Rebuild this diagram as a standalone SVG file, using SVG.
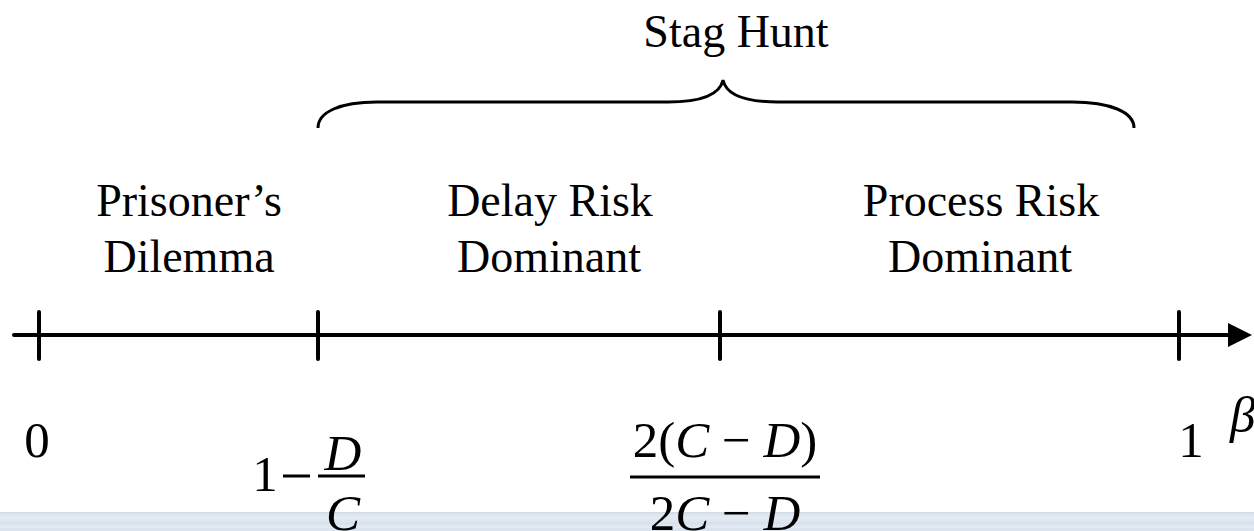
<svg xmlns="http://www.w3.org/2000/svg" width="1254" height="531" viewBox="0 0 1254 531">
<style>
.t{font-family:"Liberation Serif","Times New Roman",serif;font-size:46px;fill:#000;text-anchor:middle}
.m{font-family:"Liberation Serif","Times New Roman",serif;font-size:51px;fill:#000}
.i{font-style:italic}
.ln{stroke:#000;stroke-width:4;fill:none;stroke-linecap:round}
.br{stroke:#000;stroke-width:3;fill:none}
.bar{stroke:#000;stroke-width:3}
</style>
<defs>
<marker id="arr" markerWidth="8" markerHeight="8" refX="0" refY="4" orient="auto" markerUnits="userSpaceOnUse" viewBox="0 0 8 8" overflow="visible">
<polygon points="0,-8 24,4 0,16" fill="#000"/>
</marker>
<linearGradient id="band" x1="0" y1="0" x2="0" y2="1">
<stop offset="0" stop-color="#cfdae6"/>
<stop offset="0.15" stop-color="#dfe7f0"/>
<stop offset="1" stop-color="#dbe4ee"/>
</linearGradient>
</defs>
<rect width="1254" height="531" fill="#fff"/>
<g id="band-bg">
<rect x="0" y="512" width="1254" height="19" fill="url(#band)"/>
<line x1="0" y1="518" x2="1254" y2="518" stroke="#e8eef5" stroke-width="1"/>
<line x1="0" y1="523" x2="1254" y2="523" stroke="#d3dde8" stroke-width="1"/>
<line x1="0" y1="527" x2="1254" y2="527" stroke="#e6edf4" stroke-width="1"/>
</g>
<g id="connectors">
<line class="ln" x1="14" y1="335" x2="1228" y2="335" marker-end="url(#arr)"/>
<line class="ln" x1="39" y1="312" x2="39" y2="359"/>
<line class="ln" x1="318" y1="312" x2="318" y2="359"/>
<line class="ln" x1="720" y1="312" x2="720" y2="359"/>
<line class="ln" x1="1179" y1="312" x2="1179" y2="359"/>
<path class="br" d="M318,128 C318,112 340,102 377,102 L668,102 C702,102 720,94 723,80 C726,94 744,102 778,102 L1072,102 C1110,102 1134,112 1134,128"/>
</g>
<g id="stag-hunt"><text class="t" x="736" y="47">Stag Hunt</text></g>
<g id="prisoners-dilemma"><text class="t" x="189" y="216">Prisoner’s</text><text class="t" x="189" y="272">Dilemma</text></g>
<g id="delay-risk"><text class="t" x="550" y="216">Delay Risk</text><text class="t" x="549" y="272">Dominant</text></g>
<g id="process-risk"><text class="t" x="981" y="216">Process Risk</text><text class="t" x="980" y="272">Dominant</text></g>
<g id="label-0"><text class="m" x="37" y="457" text-anchor="middle">0</text></g>
<g id="label-1"><text class="m" x="1191" y="457" text-anchor="middle">1</text></g>
<g id="label-beta"><text class="m i" x="1230" y="432">β</text></g>
<g id="label-1-dc">
<text class="m" x="265" y="491" text-anchor="middle">1</text>
<line class="bar" x1="283" y1="476" x2="310" y2="476"/>
<line class="bar" x1="318" y1="476" x2="365" y2="476"/>
<text class="m i" x="343" y="470" text-anchor="middle">D</text>
<text class="m i" x="343" y="530" text-anchor="middle">C</text>
</g>
<g id="label-frac">
<text class="m" x="725" y="457" text-anchor="middle">2(<tspan class="i">C</tspan> − <tspan class="i">D</tspan>)</text>
<line class="bar" x1="630" y1="477" x2="820" y2="477"/>
<text class="m" x="725" y="530" text-anchor="middle">2<tspan class="i">C</tspan> − <tspan class="i">D</tspan></text>
</g>
</svg>
